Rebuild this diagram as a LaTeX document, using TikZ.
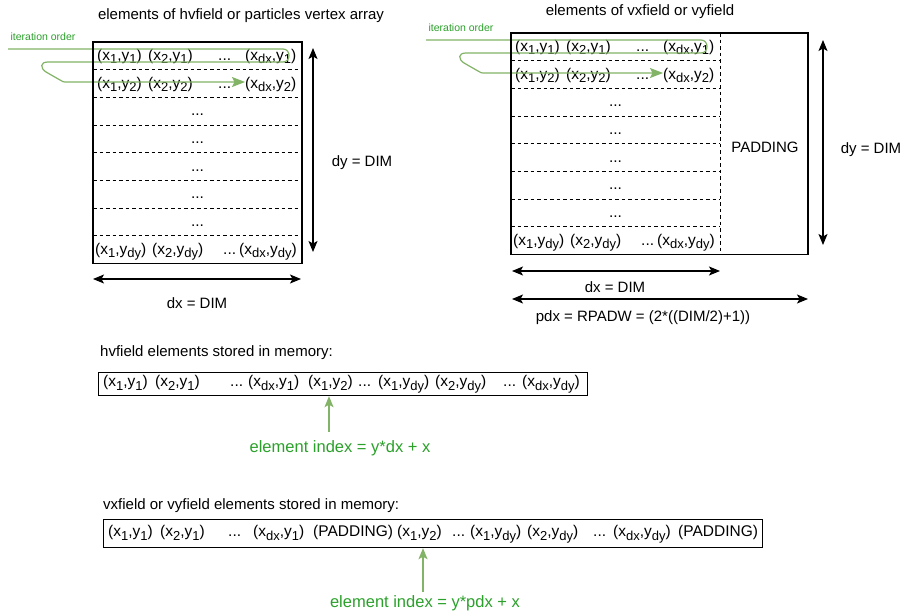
\documentclass[tikz,border=0pt]{standalone}
\usepackage{fontspec}
\setmainfont{Liberation Sans}
\usetikzlibrary{arrows.meta}

\definecolor{flowgreen}{HTML}{82B366}
\definecolor{labelgreen}{HTML}{2BA12B}

% lowered, slightly smaller index
\newcommand\sbx[1]{\raisebox{-3.5pt}{\fontsize{13}{13}\selectfont #1}}
% coordinate pair with subscripts, e.g. (x_1,y_dy)
\newcommand\cxy[2]{(x\sbx{#1},y\sbx{#2})}
% three plain dots (kept in a macro so \foreach lists do not read them as a range)
\newcommand\tdots{...}

\tikzset{
  x=1pt, y=-1pt,
  basefont/.style={font=\fontsize{15}{18}\selectfont},
  cellfont/.style={font=\fontsize{15.5}{18}\selectfont},
  plain/.style={basefont, inner sep=0pt},
  cell/.style={cellfont, inner sep=0pt, anchor=base west},
  dotcell/.style={cellfont, inner sep=0pt, anchor=base},
  boxline/.style={draw=black, line width=1.2pt},
  rowsep/.style={draw=black, line width=0.9pt, dash pattern=on 3.5pt off 3pt},
  dimarrow/.style={line width=1.2pt,
    {Stealth[length=11pt,width=9pt,inset=2.5pt]}-{Stealth[length=11pt,width=9pt,inset=2.5pt]}},
  flowpath/.style={draw=flowgreen, line width=1.2pt,
    -{Stealth[length=13pt,width=10pt,inset=2.5pt,fill=flowgreen]}},
  idxarrow/.style={draw=flowgreen, line width=1.2pt,
    -{Stealth[length=11pt,width=9pt,inset=2.5pt,fill=flowgreen]}},
  itlabel/.style={font=\fontsize{10.5}{12}\selectfont, text=labelgreen, inner sep=0pt},
  idxlabel/.style={font=\fontsize{16.5}{20}\selectfont, text=labelgreen, inner sep=0pt},
}

% rows of a 2D field, origin at the top-left corner of the grid
\newcommand\gridblock{%
  \foreach \k in {1,...,7} {\draw[rowsep] (0,\k*27.7) -- (209,\k*27.7);}
  % first row
  \node[cell] (c11) at (4,18.35) {\cxy{1}{1}};
  \node[cell] (c12) at (55,18.35) {\cxy{2}{1}};
  \node[cell] (c13) at (125,18.35) {\tdots};
  \node[cell] (c14) at (152,18.35) {\cxy{dx}{1}};
  % second row
  \node[cell] (c21) at (4,46.05) {\cxy{1}{2}};
  \node[cell] (c22) at (55,46.05) {\cxy{2}{2}};
  \node[cell] (c23) at (125,46.05) {\tdots};
  \node[cell] (c24) at (152,46.05) {\cxy{dx}{2}};
  % intermediate rows
  \foreach \k in {3,...,7} {\node[dotcell] (m\k) at (104.5,{(\k-0.5)*27.7+4.5}) {\tdots};}
  % last row
  \node[cell] (c81) at (2,212.25) {\cxy{1}{dy}};
  \node[cell] (c82) at (59,212.25) {\cxy{2}{dy}};
  \node[cell] (c83) at (130,212.25) {\tdots};
  \node[cell] (c84) at (146,212.25) {\cxy{dx}{dy}};
  % iteration order
  \node[itlabel] (itl) at (-50,-5) {iteration order};
  \coordinate (itstart) at (-85,7);
  \draw[flowpath] (itstart) -- (190,7)
    .. controls (198,7) and (198,20) .. (190,20) -- (-45,20)
    .. controls (-53,20) and (-53,26) .. (-47,30) -- (-33,38)
    .. controls (-30,40) .. (-25,40) -- (c24.west |- 0,40);
}

\begin{document}
\begin{tikzpicture}
\fill[white] (0,0) rectangle (903,616);
\useasboundingbox (0,0) rectangle (903,616);

% ---------- hvfield / vertex array ----------
\node[plain] (t1) at (241,16) {elements of hvfield or particles vertex array};
\begin{scope}[shift={(93,42)}, name prefix=L-]
  \gridblock
\end{scope}
\draw[boxline] (93,42) rectangle (302,263.6);
\draw[dimarrow] (313,48) -- (313,252);
\node[plain] (dyl) at (362,163) {dy = DIM};
\draw[dimarrow] (93,279) -- (301,279);
\node[plain] (dxl) at (197,303) {dx = DIM};

% ---------- vxfield / vyfield ----------
\node[plain] (t2) at (640,11.5) {elements of vxfield or vyfield};
\begin{scope}[shift={(511,33)}, name prefix=R-]
  \gridblock
\end{scope}
\draw[rowsep] (720,33) -- (720,254.6);
\draw[boxline] (511,33) rectangle (808,254.6);
\node[plain] (pad) at (765,147) {PADDING};
\draw[dimarrow] (823,40) -- (823,245);
\node[plain] (dyr) at (871,150) {dy = DIM};
\draw[dimarrow] (512,271) -- (720,271);
\node[plain] (dxr) at (615,287) {dx = DIM};
\draw[dimarrow] (512,299) -- (808,299);
\node[plain] (pdx) at (643,318) {pdx = RPADW = (2*((DIM/2)+1))};

% ---------- hvfield in memory ----------
\node[plain, anchor=west] (mt1) at (100,353) {hvfield elements stored in memory:};
\node[boxline, anchor=north west, minimum width=489pt, minimum height=23pt, inner sep=0pt] (mem1) at (98,372) {};
\foreach \xx/\tx [count=\i] in {103/{\cxy{1}{1}}, 155/{\cxy{2}{1}}, 230/\tdots, 248/{\cxy{dx}{1}},
    308/{\cxy{1}{2}}, 358/\tdots, 378/{\cxy{1}{dy}}, 435/{\cxy{2}{dy}}, 503/\tdots, 522/{\cxy{dx}{dy}}}
  {\node[cell] (ma\i) at (\xx,386.5) {\tx};}
\coordinate (ia1) at (329,432);
\draw[idxarrow] (ia1) -- (ia1 |- mem1.south);
\node[idxlabel] (idx1) at (340,448) {element index = y*dx + x};

% ---------- vxfield / vyfield in memory ----------
\node[plain, anchor=west] (mt2) at (103,506) {vxfield or vyfield elements stored in memory:};
\node[boxline, anchor=north west, minimum width=659pt, minimum height=28pt, inner sep=0pt] (mem2) at (103,519) {};
\foreach \xx/\tx [count=\i] in {108/{\cxy{1}{1}}, 160/{\cxy{2}{1}}, 228/\tdots, 253/{\cxy{dx}{1}},
    313/(PADDING), 397/{\cxy{1}{2}}, 452/\tdots, 470/{\cxy{1}{dy}}, 527/{\cxy{2}{dy}},
    593/\tdots, 613/{\cxy{dx}{dy}}, 678/(PADDING)}
  {\node[cell] (mb\i) at (\xx,536.5) {\tx};}
\coordinate (ia2) at (423,592);
\draw[idxarrow] (ia2) -- (ia2 |- mem2.south);
\node[idxlabel] (idx2) at (425,603) {element index = y*pdx + x};
\end{tikzpicture}
\end{document}
